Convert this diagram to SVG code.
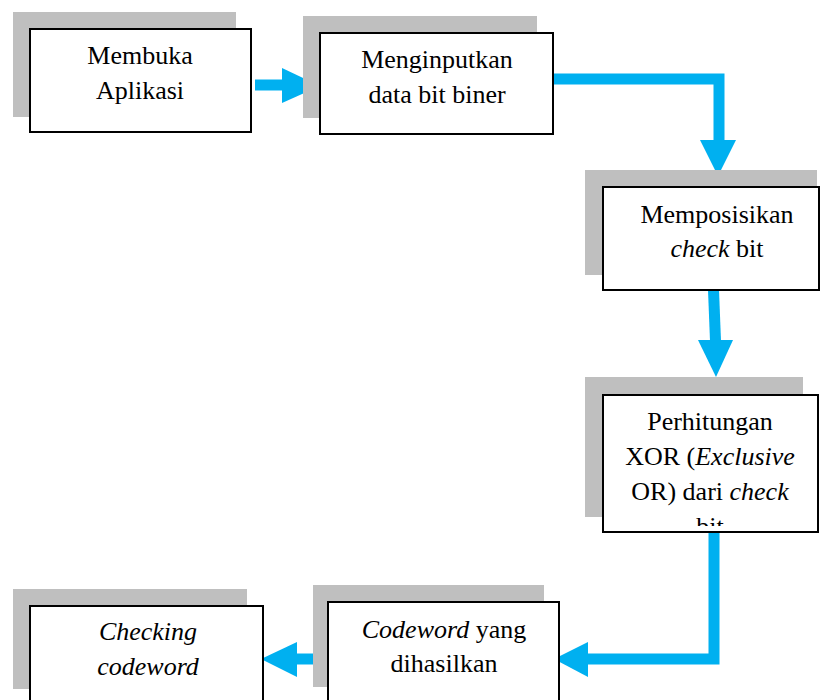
<svg xmlns="http://www.w3.org/2000/svg" width="820" height="700" viewBox="0 0 820 700">
<style>
.sh{fill:#bfbfbf}
.bx{fill:#fff;stroke:#000;stroke-width:2}
.t{font-family:'Liberation Serif','Times New Roman',serif;font-size:26px;fill:#000;text-anchor:middle}
.i{font-style:italic}
.ln{fill:none;stroke:#00b0f0;stroke-width:11}
.hd{fill:#00b0f0}
</style>
<defs>
<clipPath id="c4"><rect x="603" y="396" width="214" height="130"/></clipPath>
</defs>
<rect width="820" height="700" fill="#fff"/>
<g id="connectors">
<line class="ln" x1="255" y1="85" x2="284" y2="85"/>
<polygon class="hd" points="282,68 320,86 282,103"/>
<path class="ln" d="M553,79 H719 V141"/>
<polygon class="hd" points="700,140 736,140 718,176"/>
<line class="ln" x1="713.5" y1="290" x2="715.5" y2="341"/>
<polygon class="hd" points="698,340 733,340 716,377"/>
<path class="ln" d="M714,532 V659 H586"/>
<polygon class="hd" points="588,642 588,677 554,659"/>
<line class="ln" x1="325" y1="659" x2="295" y2="659"/>
<polygon class="hd" points="297,642 297,677 261,659"/>
</g>
<g id="n1">
<rect class="sh" x="13" y="12" width="223" height="105"/>
<rect class="bx" x="30" y="29" width="221" height="103"/>
<text class="t" x="140" y="64">Membuka</text>
<text class="t" x="140" y="99">Aplikasi</text>
</g>
<g id="n2">
<rect class="sh" x="303" y="16" width="234" height="102"/>
<rect class="bx" x="320" y="33" width="233" height="101"/>
<text class="t" x="437" y="68">Menginputkan</text>
<text class="t" x="437" y="103">data bit biner</text>
</g>
<g id="n3">
<rect class="sh" x="585" y="170" width="232" height="105"/>
<rect class="bx" x="603" y="187" width="216" height="103"/>
<text class="t" x="717" y="223">Memposisikan</text>
<text class="t" x="717" y="257"><tspan class="i">check</tspan> bit</text>
</g>
<g id="n4">
<rect class="sh" x="585" y="377" width="218" height="140"/>
<rect class="bx" x="603" y="395" width="215" height="137"/>
<g clip-path="url(#c4)">
<text class="t" x="710" y="430">Perhitungan</text>
<text class="t" x="710" y="465">XOR (<tspan class="i">Exclusive</tspan></text>
<text class="t" x="710" y="500">OR) dari <tspan class="i">check</tspan></text>
<text class="t" x="710" y="535">bit</text>
</g>
</g>
<g id="n5">
<rect class="sh" x="313" y="585" width="231" height="102"/>
<rect class="bx" x="328" y="602" width="231" height="110"/>
<text class="t" x="444" y="638"><tspan class="i">Codeword</tspan> yang</text>
<text class="t" x="444" y="672">dihasilkan</text>
</g>
<g id="n6">
<rect class="sh" x="13" y="589" width="234" height="100"/>
<rect class="bx" x="30" y="606" width="233" height="106"/>
<text class="t i" x="148" y="640">Checking</text>
<text class="t i" x="148" y="675">codeword</text>
</g>
</svg>
